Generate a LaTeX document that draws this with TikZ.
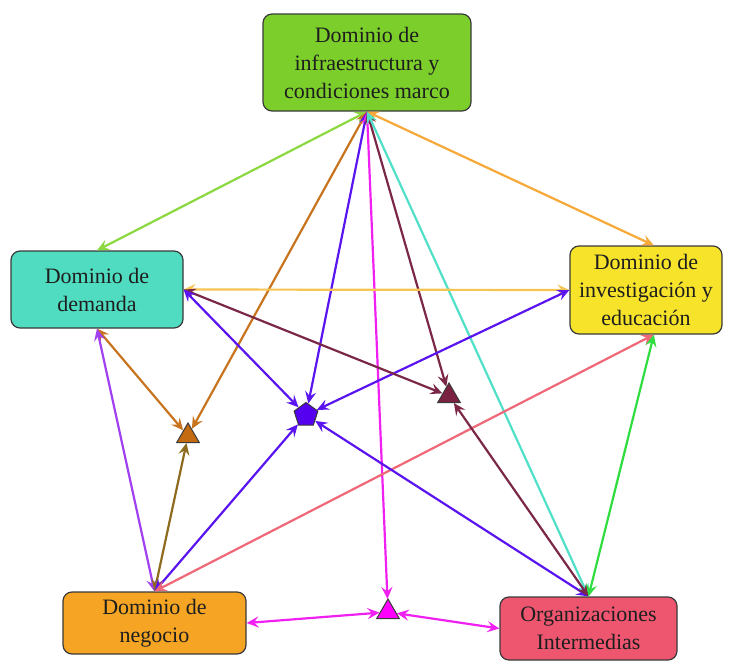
\documentclass[tikz,border=0pt]{standalone}
\usepackage{fontspec}
\setmainfont{Liberation Serif}
\usetikzlibrary{arrows.meta,shapes.geometric}
\definecolor{cInfra}{HTML}{7CCF2A}
\definecolor{cDem}{HTML}{4FDCC0}
\definecolor{cInv}{HTML}{F7E42A}
\definecolor{cNeg}{HTML}{F5A523}
\definecolor{cOrg}{HTML}{EE5670}
\definecolor{cBorder}{HTML}{3A3A3A}
\definecolor{cText}{HTML}{1E1E1E}
\definecolor{eGreen}{HTML}{8BD840}
\definecolor{eOrange}{HTML}{F6A838}
\definecolor{eBrown}{HTML}{C8741E}
\definecolor{eBlue}{HTML}{5A14F0}
\definecolor{eMag}{HTML}{F020F0}
\definecolor{eMaroon}{HTML}{7B2848}
\definecolor{eTurq}{HTML}{50E0C8}
\definecolor{eLOrange}{HTML}{F5C452}
\definecolor{ePurple}{HTML}{A040F0}
\definecolor{eOlive}{HTML}{8E6A1E}
\definecolor{ePink}{HTML}{F06878}
\definecolor{eGreenB}{HTML}{30DD40}
\definecolor{mBrown}{HTML}{C46A10}
\definecolor{mMaroon}{HTML}{7A2040}
\definecolor{mBlue}{HTML}{5500EE}
\definecolor{mMag}{HTML}{FF00FF}
\tikzset{
  dombox/.style={draw=cBorder, line width=1.2pt, rounded corners=9pt, align=center,
    text=cText, font=\fontsize{22}{28}\selectfont, inner sep=0pt},
  trimark/.style={regular polygon, regular polygon sides=3, draw=cBorder, line width=1pt,
    minimum size=26pt, inner sep=0pt},
  pentmark/.style={regular polygon, regular polygon sides=5, draw=cBorder, line width=1pt,
    minimum size=25pt, inner sep=0pt},
  linkboth/.style={line width=2.2pt, {Stealth[length=12pt,width=11pt,inset=4.5pt]}-{Stealth[length=12pt,width=11pt,inset=4.5pt]}}
}
\begin{document}
\begin{tikzpicture}[x=1pt,y=-1pt]
\useasboundingbox (0,0) rectangle (732,664);
% domains
\node[dombox, fill=cInfra, minimum width=208pt, minimum height=97pt] (infra) at (367,62.5)
  {Dominio de\\infraestructura y\\condiciones marco};
\node[dombox, fill=cDem, minimum width=172pt, minimum height=77pt] (dem) at (97,289.5)
  {Dominio de\\demanda};
\node[dombox, fill=cInv, minimum width=152pt, minimum height=88pt] (inv) at (646,290)
  {Dominio de\\investigación y\\educación};
\node[dombox, fill=cNeg, minimum width=183pt, minimum height=62pt] (neg) at (154.5,623)
  {Dominio de\\negocio};
\node[dombox, fill=cOrg, minimum width=177pt, minimum height=63pt] (org) at (588.5,628.5)
  {Organizaciones\\Intermedias};
% markers
\node[trimark, fill=mBrown] (tb) at (188,436) {};
\node[pentmark, fill=mBlue] (pn) at (306,415) {};
\node[trimark, fill=mMaroon] (tm) at (449,396) {};
\node[trimark, fill=mMag] (tg) at (388,612) {};
% connectors
\draw[linkboth, eGreen] (infra.south) -- (dem.north);
\draw[linkboth, eOrange] (infra.south) -- (inv.80);
\draw[linkboth, eBrown] (infra.south) -- (tb);
\draw[linkboth, eBlue] (infra.south) -- (pn);
\draw[linkboth, eMag] (infra.south) -- (tg);
\draw[linkboth, eMaroon] (infra.south) -- (tm);
\draw[linkboth, eTurq] (infra.south) -- (org.north);
\draw[linkboth, eLOrange] (dem.east) -- (inv.west);
\draw[linkboth, eBlue] (pn) -- (inv.west);
\draw[linkboth, eMaroon] (dem.east) -- (tm);
\draw[linkboth, eBlue] (dem.east) -- (pn);
\draw[linkboth, eBrown] (dem.south) -- (tb);
\draw[linkboth, ePurple] (dem.south) -- (neg.north);
\draw[linkboth, eOlive] (neg.north) -- (tb);
\draw[linkboth, eBlue] (neg.north) -- (pn);
\draw[linkboth, ePink] (neg.north) -- (inv.-80);
\draw[linkboth, eBlue] (pn) -- (org.north);
\draw[linkboth, eMaroon] (tm) -- (org.north);
\draw[linkboth, eGreenB] (inv.-80) -- (org.north);
\draw[linkboth, eMag] (neg.east) -- (tg);
\draw[linkboth, eMag] (tg) -- (org.west);
\end{tikzpicture}
\end{document}
